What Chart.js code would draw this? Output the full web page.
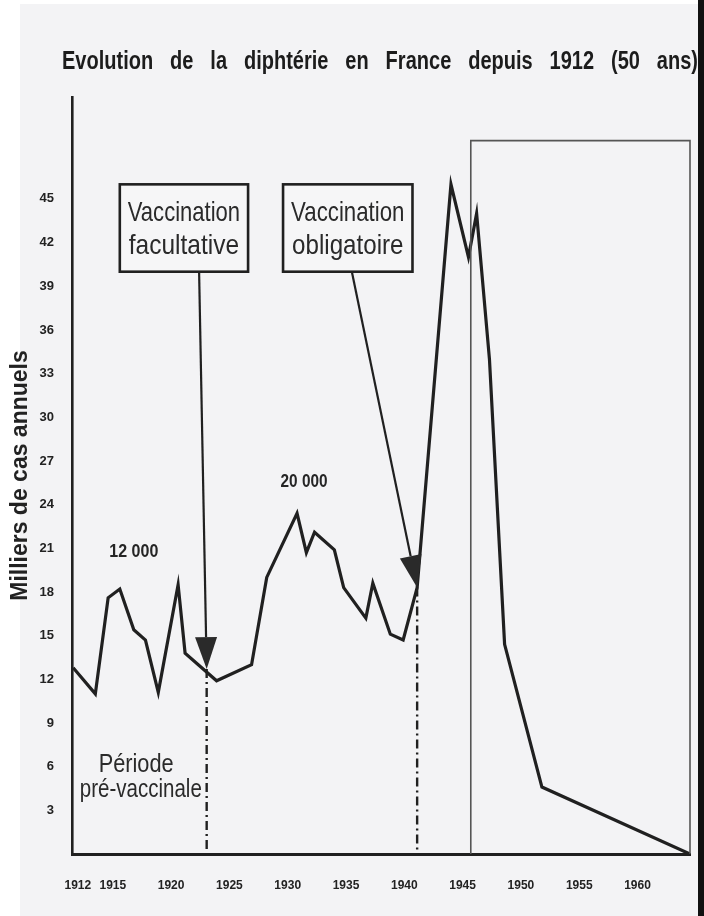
<!DOCTYPE html>
<html><head><meta charset="utf-8">
<script src="https://cdn.jsdelivr.net/npm/chart.js@4"></script>
<style>html,body{margin:0;padding:0;background:#fff;overflow:hidden}#wrap{width:704px;height:916px}</style>
</head><body><div id="wrap"><canvas id="c" width="704" height="916"></canvas></div>
<script>
// ---- text ----
const titleText = 'Evolution de la diphtérie en France depuis 1912 (50 ans)';
const yAxisTitle = 'Milliers de cas annuels';
const box1Lines = ['Vaccination', 'facultative'];
const box2Lines = ['Vaccination', 'obligatoire'];
const periodLines = ['Période', 'pré-vaccinale'];
const peakLabel1 = '12 000';
const peakLabel2 = '20 000';

// ---- data (thousands of annual cases) ----
const years = [1911.6, 1913.5, 1914.6, 1915.6, 1916.8, 1917.8, 1918.9, 1920.6, 1921.2, 1923.9, 1926.9, 1928.2, 1930.8, 1931.6, 1932.3, 1934.0, 1934.8, 1936.7, 1937.3, 1938.8, 1939.9, 1941.1, 1944.0, 1945.5, 1946.2, 1947.3, 1948.6, 1951.8, 1964.5];
const cases = [12.8, 11.0, 17.6, 18.2, 15.4, 14.7, 11.1, 18.5, 13.8, 11.9, 13.0, 19.0, 23.4, 20.7, 22.1, 20.9, 18.3, 16.2, 18.6, 15.1, 14.7, 18.3, 46.0, 41.0, 44.0, 34.0, 14.4, 4.6, 0];

// ---- ticks ----
const xTickYears = [1912, 1915, 1920, 1925, 1930, 1935, 1940, 1945, 1950, 1955, 1960];
const yTickValues = [3, 6, 9, 12, 15, 18, 21, 24, 27, 30, 33, 36, 39, 42, 45];

// ---- events (year, value) ----
const facultativeYear = 1923.05, facultativeValue = 12.7;
const obligatoireYear = 1941.1, obligatoireValue = 18.3;
const postWarYear = 1945.7, postWarTop = 49.0;

const INK = '#202020';
const FAM = '"Liberation Sans", Arial, sans-serif';

function fitText(ctx, text, cx, baseY, width, font, color) {
  ctx.save();
  ctx.font = font;
  const w = ctx.measureText(text).width;
  ctx.translate(cx, baseY);
  ctx.scale(width / w, 1);
  ctx.textAlign = 'center';
  ctx.textBaseline = 'alphabetic';
  ctx.fillStyle = color;
  ctx.fillText(text, 0, 0);
  ctx.restore();
}

function arrow(ctx, x0, y0, x1, y1) {
  const ang = Math.atan2(y1 - y0, x1 - x0);
  const L = 32, W = 11;
  const bx = x1 - L * Math.cos(ang), by = y1 - L * Math.sin(ang);
  ctx.beginPath();
  ctx.moveTo(x0, y0); ctx.lineTo(bx, by);
  ctx.lineWidth = 2.2; ctx.strokeStyle = INK; ctx.stroke();
  ctx.beginPath();
  ctx.moveTo(x1, y1);
  ctx.lineTo(bx + W * Math.sin(ang), by - W * Math.cos(ang));
  ctx.lineTo(bx - W * Math.sin(ang), by + W * Math.cos(ang));
  ctx.closePath();
  ctx.fillStyle = '#2a2a2a'; ctx.fill();
}

const decor = {
  id: 'decor',
  beforeDraw(chart) {
    const ctx = chart.ctx;
    ctx.save();
    ctx.fillStyle = '#ffffff'; ctx.fillRect(0, 0, 704, 916);
    ctx.fillStyle = '#f3f3f5'; ctx.fillRect(20, 4, 678, 912);
    ctx.fillStyle = '#111111'; ctx.fillRect(698, 0, 6, 916);
    ctx.restore();
  },
  afterDatasetsDraw(chart) {
    const ctx = chart.ctx, xs = chart.scales.x, ys = chart.scales.y;
    const X = v => xs.getPixelForValue(v), Y = v => ys.getPixelForValue(v);
    ctx.save();
    // post-war box
    ctx.beginPath();
    ctx.moveTo(X(postWarYear), Y(0));
    ctx.lineTo(X(postWarYear), Y(postWarTop));
    ctx.lineTo(chart.chartArea.right, Y(postWarTop));
    ctx.lineTo(chart.chartArea.right, Y(0));
    ctx.lineWidth = 1.6; ctx.strokeStyle = '#555'; ctx.stroke();
    // dashed verticals
    ctx.setLineDash([9, 4, 2, 4]);
    ctx.lineWidth = 2.4; ctx.strokeStyle = INK;
    [[facultativeYear, facultativeValue], [obligatoireYear, obligatoireValue]].forEach(([yr, v]) => {
      ctx.beginPath(); ctx.moveTo(X(yr), Y(v)); ctx.lineTo(X(yr), Y(0)); ctx.stroke();
    });
    ctx.setLineDash([]);
    // arrows
    arrow(ctx, X(1922.4), Y(40.0), X(facultativeYear), Y(facultativeValue));
    arrow(ctx, X(1935.5), Y(40.0), X(obligatoireYear), Y(obligatoireValue));
    // boxes
    const drawBox = (x0, x1, lines) => {
      const l = X(x0), r = X(x1), t = Y(46.0), b = Y(40.0);
      ctx.fillStyle = '#f6f6f7'; ctx.fillRect(l, t, r - l, b - t);
      ctx.lineWidth = 2.6; ctx.strokeStyle = INK; ctx.strokeRect(l, t, r - l, b - t);
      const cx = (l + r) / 2, w = (r - l) - 16;
      fitText(ctx, lines[0], cx, t + 37, w, '28px ' + FAM, '#2a2a2a');
      fitText(ctx, lines[1], cx, t + 70, w - 2, '28px ' + FAM, '#2a2a2a');
    };
    drawBox(1915.6, 1926.6, box1Lines);
    drawBox(1929.6, 1940.7, box2Lines);
    // labels
    fitText(ctx, peakLabel1, X(1916.8), Y(20.4), 49, 'bold 19px ' + FAM, '#252525');
    fitText(ctx, peakLabel2, X(1931.4), Y(25.2), 47, 'bold 19px ' + FAM, '#252525');
    fitText(ctx, periodLines[0], X(1917.0), Y(5.6), 75, '25px ' + FAM, '#2a2a2a');
    fitText(ctx, periodLines[1], X(1917.4), Y(3.9), 122, '25px ' + FAM, '#2a2a2a');
    ctx.restore();
  },
  afterDraw(chart) {
    const ctx = chart.ctx;
    ctx.save();
    ctx.font = 'bold 26px ' + FAM;
    const sx = 0.77;
    const w0 = ctx.measureText(titleText).width;
    const spaces = titleText.split(' ').length - 1;
    const extra = (636 / sx - w0) / spaces;
    try { ctx.wordSpacing = extra + 'px'; } catch (e) {}
    ctx.translate(62, 69);
    ctx.scale(sx, 1);
    ctx.textAlign = 'left'; ctx.textBaseline = 'alphabetic';
    ctx.fillStyle = '#1c1c1c';
    ctx.fillText(titleText, 0, 0);
    ctx.restore();
  }
};

new Chart(document.getElementById('c'), {
  type: 'line',
  data: {
    datasets: [{
      data: years.map((x, i) => ({ x, y: cases[i] })),
      borderColor: INK, borderWidth: 3.2, pointRadius: 0, tension: 0,
      borderJoinStyle: 'miter', fill: false
    }]
  },
  options: {
    responsive: false, animation: false, devicePixelRatio: 1,
    layout: { padding: { top: 97, right: 14, left: 0, bottom: 0 } },
    plugins: { legend: { display: false }, tooltip: { enabled: false }, title: { display: false } },
    scales: {
      x: {
        type: 'linear', min: 1911.5, max: 1964.5,
        grid: { display: false, drawTicks: false },
        border: { display: true, color: INK, width: 3 },
        afterBuildTicks: s => { s.ticks = xTickYears.map(v => ({ value: v })); },
        afterFit: s => { s.height = 62; },
        ticks: { autoSkip: false, maxRotation: 0, padding: 24, color: '#222',
          font: { family: FAM, size: 12, weight: 'bold' }, callback: v => String(v) }
      },
      y: {
        type: 'linear', min: 0, max: 52,
        grid: { display: false, drawTicks: false },
        border: { display: true, color: INK, width: 2.6 },
        afterBuildTicks: s => { s.ticks = yTickValues.map(v => ({ value: v })); },
        afterFit: s => { s.width = 72; },
        title: { display: true, text: yAxisTitle, color: '#222',
          font: { family: FAM, size: 23, weight: 'bold' }, padding: { top: 7, bottom: 0 } },
        ticks: { padding: 18, color: '#222', font: { family: FAM, size: 13, weight: 'bold' },
          callback: v => String(v) }
      }
    }
  },
  plugins: [decor]
});
</script>
</body></html>
